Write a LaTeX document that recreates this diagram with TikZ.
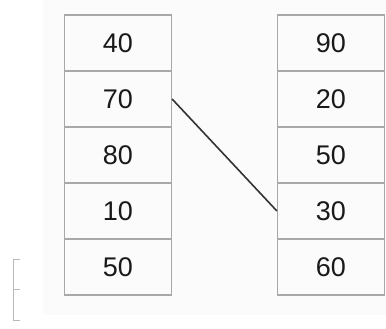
\documentclass[tikz,border=0pt]{standalone}
\usepackage{fontspec}
\setmainfont{Liberation Sans}
\begin{document}
\begin{tikzpicture}[x=1pt,y=-1pt,
  cell/.style={draw=cellgray,line width=1.2pt,minimum width=107pt,minimum height=56pt,inner sep=0pt,font=\fontsize{27}{30}\selectfont,text=black!90},
  link/.style={draw=black!80,line width=1.6pt},
  frag/.style={draw=black!28,line width=1pt}]
\definecolor{cellgray}{gray}{0.66}
\useasboundingbox (0,0) rectangle (386,329);
\fill[black!1.5] (43,0) rectangle (386,315);
\foreach \v [count=\i] in {40,70,80,10,50}{
  \node[cell] (L\i) at (118,{15+28+56*(\i-1)}) {\v};
}
\foreach \v [count=\i] in {90,20,50,30,60}{
  \node[cell] (R\i) at (331,{15+28+56*(\i-1)}) {\v};
}
\draw[link] (L2.east) -- (R4.west);
\coordinate (f1) at (20,259);
\coordinate (f2) at (13,259);
\coordinate (f3) at (13,320);
\coordinate (f4) at (20,320);
\coordinate (f5) at (13,289);
\coordinate (f6) at (20,289);
\draw[frag] (f1) -- (f2) -- (f3) -- (f4);
\draw[frag] (f5) -- (f6);
\end{tikzpicture}
\end{document}
